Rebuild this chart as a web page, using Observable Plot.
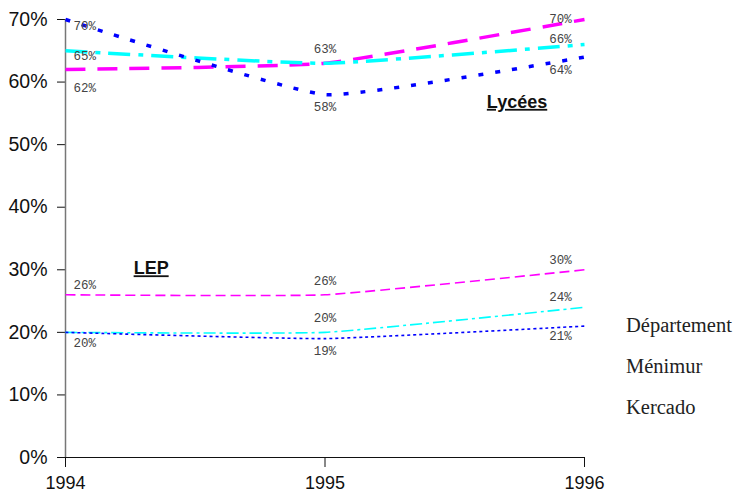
<!DOCTYPE html>
<html>
<head>
<meta charset="utf-8">
<script src="https://cdn.jsdelivr.net/npm/d3@7"></script>
<script src="https://cdn.jsdelivr.net/npm/@observablehq/plot@0.6"></script>
<style>
  html, body { margin: 0; padding: 0; background: #fff; }
  #chart { position: relative; width: 737px; height: 494px; }
  #legend { position: absolute; left: 626px; top: 305px; font-family: "Liberation Serif", serif; font-size: 20.5px; color: #222; line-height: 41px; }
</style>
</head>
<body>
<div id="chart">
  <div id="legend"></div>
</div>
<script>
const years = [1994, 1995, 1996];
const seriesNames = ["Département", "Ménimur", "Kercado"];
const groups = ["Lycées", "LEP"];

// Lycées
const lyceesDepartement = [62, 63, 70];
const lyceesMenimur = [65, 63, 66];
const lyceesKercado = [70, 58, 64];

// LEP
const lepDepartement = [26, 26, 30];
const lepMenimur = [20, 20, 24];
const lepKercado = [20, 19, 21];

const yTicks = [0, 10, 20, 30, 40, 50, 60, 70];

const values = {
  "Lycées": { "Département": lyceesDepartement, "Ménimur": lyceesMenimur, "Kercado": lyceesKercado },
  "LEP": { "Département": lepDepartement, "Ménimur": lepMenimur, "Kercado": lepKercado }
};

const colors = { "Département": "#ff00ff", "Ménimur": "#00ffff", "Kercado": "#0000ff" };
const dashes = {
  "Lycées": { "Département": "20,12", "Ménimur": "22,8,5,8", "Kercado": "5,12" },
  "LEP": { "Département": "10,5", "Ménimur": "12,4,3,4", "Kercado": "3,3" }
};
const widths = { "Lycées": 3.5, "LEP": 1.6 };

const rows = [];
for (const g of groups) for (const s of seriesNames)
  values[g][s].forEach((v, i) => rows.push({ group: g, series: s, year: years[i], value: v }));

// where each value label sits relative to its point
function placement(r) {
  let dx = 0, dy = 0, anchor = "middle";
  if (r.year === 1994) {
    dx = 8; anchor = "start";
    if (r.group === "Lycées") dy = r.series === "Kercado" ? 6 : r.series === "Ménimur" ? 5 : 18;
    else dy = r.series === "Kercado" ? 11 : -10;
  } else if (r.year === 1996) {
    dx = -24;
    if (r.group === "Lycées") dy = r.series === "Kercado" ? 13 : r.series === "Ménimur" ? -6 : -1;
    else dy = r.series === "Kercado" ? 10 : -10;
  } else {
    dy = r.series === "Kercado" ? 12 : -14;
  }
  return { dx, dy, anchor };
}
const hidden = new Set(["Lycées|Ménimur|1995", "LEP|Ménimur|1994"]);
const labelRows = rows.filter(r => !hidden.has(`${r.group}|${r.series}|${r.year}`));

const lineMarks = [];
for (const g of groups) for (const s of seriesNames) {
  lineMarks.push(Plot.line(rows.filter(r => r.group === g && r.series === s), {
    x: "year", y: "value", curve: "cardinal", tension: 0.6,
    stroke: colors[s], strokeWidth: widths[g], strokeDasharray: dashes[g][s], strokeLinecap: "butt"
  }));
}

const labelMarks = labelRows.map(r => {
  const p = placement(r);
  return Plot.text([r], {
    x: "year", y: "value", text: d => d.value + "%",
    dx: p.dx, dy: p.dy, textAnchor: p.anchor,
    fontFamily: "Liberation Mono, monospace", fontSize: 12.5, fill: "#444",
    style: "letter-spacing:1px"
  });
});

const chart = Plot.plot({
  width: 737, height: 494,
  marginLeft: 65, marginRight: 153, marginTop: 19, marginBottom: 37,
  style: { fontFamily: "Liberation Sans, Arial, sans-serif", fontSize: "18px", color: "#111", background: "#fff", overflow: "visible" },
  x: { domain: [1994, 1996], label: null },
  y: { domain: [0, 70], label: null },
  marks: [
    Plot.axisX({ ticks: years, tickFormat: d => String(d), tickSize: 10, tickPadding: 9, fontSize: 18, label: null }),
    Plot.axisY({ ticks: yTicks, tickFormat: d => d + "%", tickSize: 8, tickPadding: 10, fontSize: 19.5, label: null }),
    Plot.ruleX([1994], { stroke: "#777", strokeWidth: 1.5 }),
    Plot.ruleY([0], { stroke: "#111", strokeWidth: 1.2 }),
    ...lineMarks,
    ...labelMarks,
    Plot.text([groups[0]], { x: 1995.74, y: 56.8, text: d => d, fontWeight: "bold", fontSize: 18, fill: "#111", className: "group-title" }),
    Plot.text([groups[1]], { x: 1994.33, y: 30.2, text: d => d, fontWeight: "bold", fontSize: 18, fill: "#111", className: "group-title" })
  ]
});

d3.select(chart).selectAll(".group-title text").attr("text-decoration", "underline");
document.getElementById("chart").prepend(chart);
document.getElementById("legend").innerHTML = seriesNames.map(s => `<div>${s}</div>`).join("");
</script>
</body>
</html>
